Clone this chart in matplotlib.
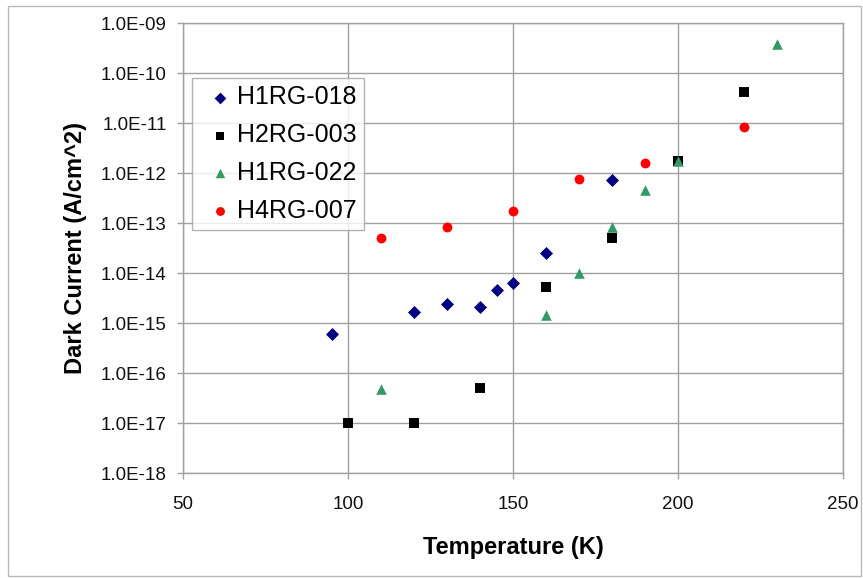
import matplotlib
matplotlib.use("Agg")
import matplotlib.pyplot as plt
from matplotlib.patches import Rectangle
from matplotlib.ticker import FixedLocator, FixedFormatter, NullLocator

plt.rcParams['font.family'] = ['Liberation Sans', 'DejaVu Sans']

# Data
t_h1rg018 = [95, 120, 130, 140, 145, 150, 160, 180]
d_h1rg018 = [6.0e-16, 1.66e-15, 2.4e-15, 2.1e-15, 4.5e-15, 6.3e-15, 2.55e-14, 7.3e-13]

t_h2rg003 = [100, 120, 140, 160, 180, 200, 220]
d_h2rg003 = [1.0e-17, 1.0e-17, 4.9e-17, 5.3e-15, 4.9e-14, 1.72e-12, 4.1e-11]

t_h1rg022 = [110, 160, 170, 180, 190, 200, 230]
d_h1rg022 = [4.7e-17, 1.42e-15, 1.0e-14, 8.3e-14, 4.6e-13, 1.72e-12, 3.8e-10]

t_h4rg007 = [110, 130, 150, 170, 190, 220]
d_h4rg007 = [4.9e-14, 8.3e-14, 1.71e-13, 7.7e-13, 1.58e-12, 8.4e-12]

series_names = ["H1RG-018", "H2RG-003", "H1RG-022", "H4RG-007"]
y_tick_vals = [1e-18, 1e-17, 1e-16, 1e-15, 1e-14, 1e-13, 1e-12, 1e-11, 1e-10, 1e-9]
y_tick_labels = ["1.0E-18", "1.0E-17", "1.0E-16", "1.0E-15", "1.0E-14",
                 "1.0E-13", "1.0E-12", "1.0E-11", "1.0E-10", "1.0E-09"]
x_ticks = [50, 100, 150, 200, 250]

W, H = 863, 578
fig = plt.figure(figsize=(W / 100, H / 100), dpi=100)
fig.patch.set_facecolor('white')
fig.patches.append(Rectangle((8 / W, 1 - 576 / H), (861 - 8) / W, (576 - 6) / H,
                             transform=fig.transFigure, fill=False,
                             edgecolor='#b8b8b8', linewidth=1.0))

L, R, T, B = 183, 843, 23, 473
ax = fig.add_axes([L / W, 1 - B / H, (R - L) / W, (B - T) / H])
ax.set_yscale('log')
ax.set_xlim(50, 250)
ax.set_ylim(1e-18, 1e-9)

ax.scatter(t_h1rg018, d_h1rg018, marker='D', s=44, color='#000080', label=series_names[0], zorder=3, linewidths=0)
ax.scatter(t_h2rg003, d_h2rg003, marker='s', s=46, color='#000000', label=series_names[1], zorder=3, linewidths=0)
ax.scatter(t_h1rg022, d_h1rg022, marker='^', s=58, color='#339966', label=series_names[2], zorder=3, linewidths=0)
ax.scatter(t_h4rg007, d_h4rg007, marker='o', s=50, color='#ff0000', label=series_names[3], zorder=3, linewidths=0)

ax.yaxis.set_major_locator(FixedLocator(y_tick_vals))
ax.yaxis.set_major_formatter(FixedFormatter(y_tick_labels))
ax.yaxis.set_minor_locator(NullLocator())
ax.set_xticks(x_ticks)

ax.grid(True, which='major', color='#a0a0a0', linewidth=1.0)
ax.set_axisbelow(True)
for side in ['top', 'right', 'left', 'bottom']:
    ax.spines[side].set_color('#a0a0a0')
    ax.spines[side].set_linewidth(1.0)
ax.tick_params(axis='both', colors='#a0a0a0', labelcolor='#111111', labelsize=13.5, length=4.3, width=1.0)
ax.tick_params(axis='x', pad=12)
ax.tick_params(axis='y', pad=7.5)

ax.set_xlabel("Temperature (K)", fontsize=17, fontweight='bold', labelpad=17)
ax.set_ylabel("Dark Current (A/cm^2)", fontsize=17, fontweight='bold', labelpad=10)

leg = ax.legend(loc='upper left', bbox_to_anchor=((192 - L) / (R - L), (B - 78) / (B - T)),
                borderaxespad=0.0,
                fontsize=18, frameon=True, fancybox=False, edgecolor='#a0a0a0',
                handletextpad=-0.1, labelspacing=0.55, borderpad=0.3,
                handlelength=1.6, markerscale=0.9)
leg.get_frame().set_linewidth(1.0)

fig.savefig("out.png", dpi=100, facecolor='white')
